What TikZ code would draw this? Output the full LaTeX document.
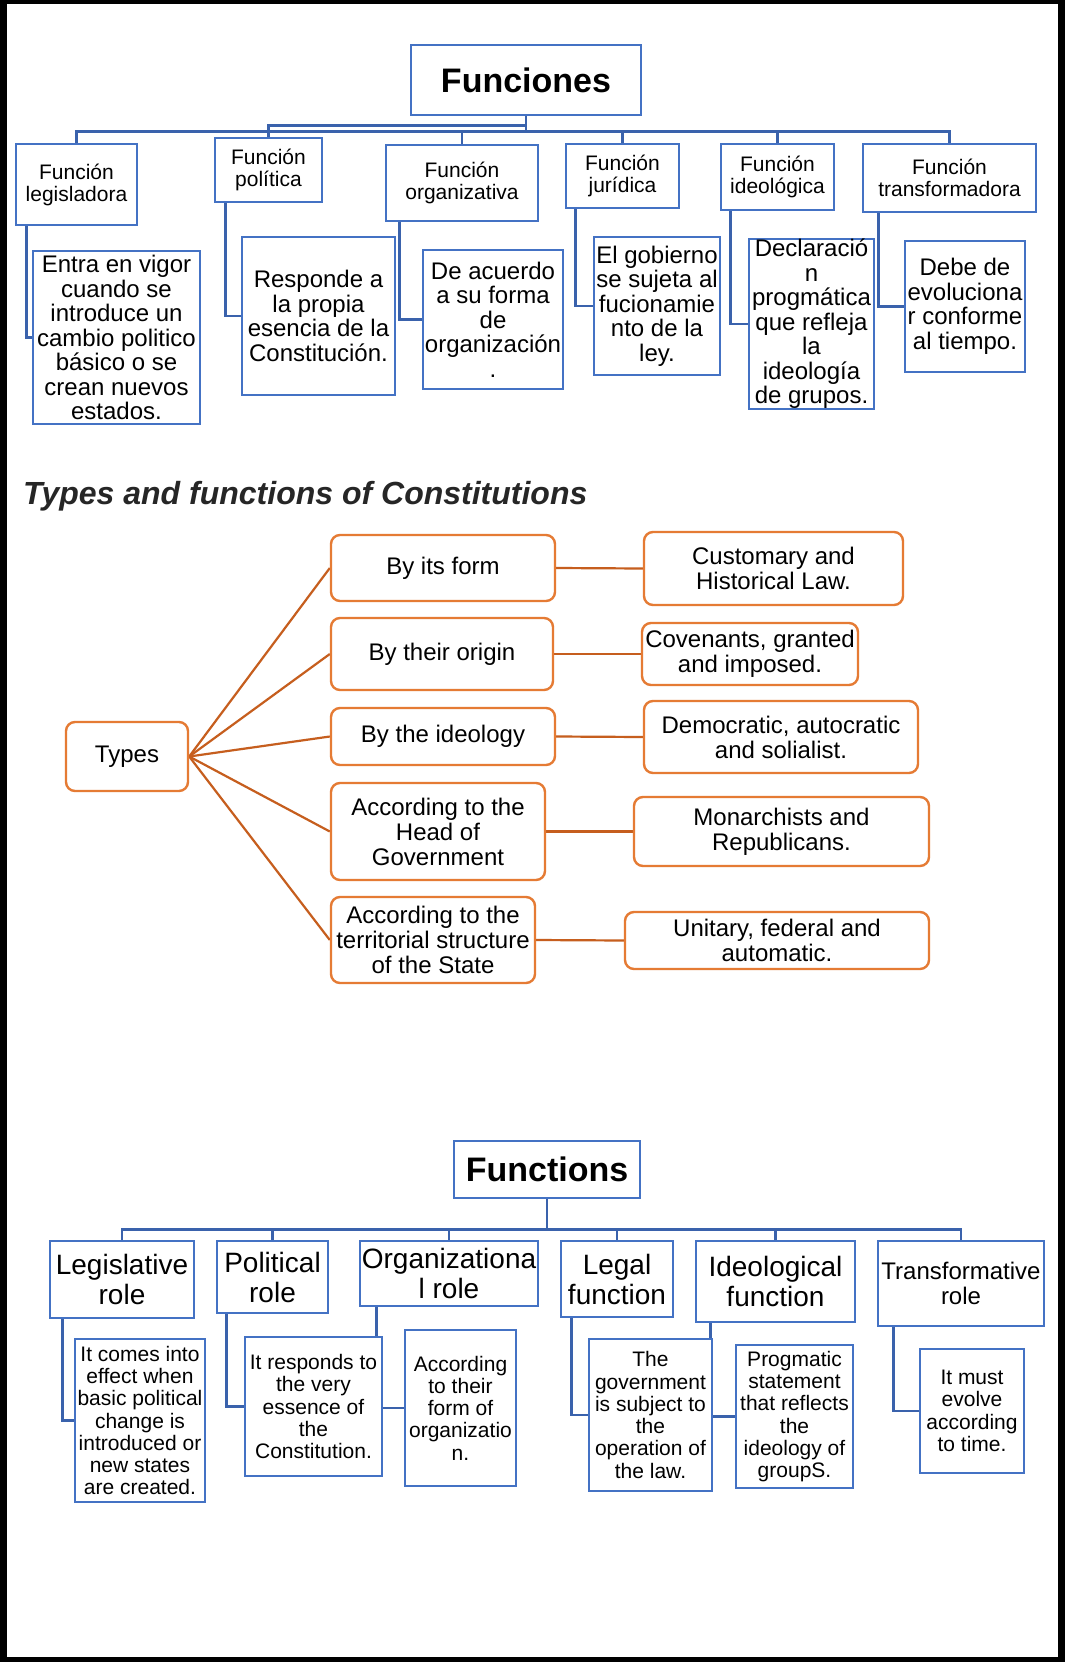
\documentclass[tikz,border=0pt]{standalone}
\usepackage{fontspec}
\setmainfont{Liberation Sans}
\usetikzlibrary{calc,backgrounds}
\definecolor{chartblue}{HTML}{4472C4}
\definecolor{linkblue}{HTML}{3A62AC}
\definecolor{chartorange}{HTML}{E57B34}
\definecolor{linkorange}{HTML}{C65E1E}

\begin{document}
\begin{tikzpicture}[x=1pt, y=-1pt,
                    boxsize/.style 2 args={minimum width=#1, minimum height=#2},
                    bluebox/.style={draw=chartblue, line width=2.6pt, fill=white, align=center, inner sep=0pt},
                    bluelink/.style={draw=linkblue, line width=2.6pt},
                    tophead/.style={bluebox, font=\fontsize{21}{22}\selectfont},
                    topdesc/.style={bluebox, font=\fontsize{24}{24.5}\selectfont},
                    bothead/.style={bluebox, font=\fontsize{28}{30}\selectfont},
                    botdesc/.style={bluebox, font=\fontsize{21}{22.3}\selectfont},
                    orangebox/.style={draw=chartorange, line width=2.4pt, fill=white, rounded corners=9pt, align=center, inner sep=0pt, font=\fontsize{24}{25}\selectfont},
                    orangelink/.style={draw=linkorange, line width=2.2pt}]
                    \useasboundingbox (0,0) rectangle (1065,1662);
                    \node [bluebox, boxsize={230}{70}, font=\fontsize{34}{40}\selectfont\bfseries] (fun) at (526,80) {Funciones};
                    \node [tophead, boxsize={121}{81}] (leg) at (76.5,184.5) {Función\\legisladora};
                    \node [tophead, boxsize={107}{64}] (pol) at (268.5,170) {Función\\política};
                    \node [tophead, boxsize={152}{76}] (org) at (462,183) {Función\\organizativa};
                    \node [tophead, boxsize={113}{64}] (jur) at (622.5,176) {Función\\jurídica};
                    \node [tophead, boxsize={113}{66}] (ideo) at (777.5,177) {Función\\ideológica};
                    \node [tophead, boxsize={173}{68}] (tra) at (949.5,178) {Función\\transformadora};
                    \node [topdesc, boxsize={167}{173}] (legd) at (116.5,337.5) {Entra en vigor\\cuando se\\introduce un\\cambio politico\\básico o se\\crean nuevos\\estados.};
                    \node [topdesc, boxsize={153}{158}] (pold) at (318.5,316) {Responde a\\la propia\\esencia de la\\Constitución.};
                    \node [topdesc, boxsize={140}{139}] (orgd) at (493,319.5) {De acuerdo\\a su forma\\de\\organización\\.};
                    \node [topdesc, boxsize={126}{138}] (jurd) at (657,306) {El gobierno\\se sujeta al\\fucionamie\\nto de la\\ley.};
                    \node [topdesc, boxsize={125}{170}] (ideod) at (811.5,324) {Declaració\\n\\progmática\\que refleja\\la\\ideología\\de grupos.};
                    \node [topdesc, boxsize={120}{131}] (trad) at (965,306.5) {Debe de\\evoluciona\\r conforme\\al tiempo.};
                    \node [anchor=base west, inner sep=0pt, text=black!85, font=\fontsize{32}{36}\selectfont\bfseries\itshape] (title) at (23,504) {Types and functions of Constitutions};
                    \node [orangebox, boxsize={122}{69}] (types) at (127,756.5) {Types};
                    \node [orangebox, boxsize={224}{66}] (bform) at (443,568) {By its form};
                    \node [orangebox, boxsize={222}{72}] (borig) at (442,654) {By their origin};
                    \node [orangebox, boxsize={224}{57}] (bideo) at (443,736.5) {By the ideology};
                    \node [orangebox, boxsize={214}{97}] (bhead) at (438,831.5) {According to the\\Head of\\Government};
                    \node [orangebox, boxsize={204}{86}] (bterr) at (433,940) {According to the\\territorial structure\\of the State};
                    \node [orangebox, boxsize={259}{73}] (cust) at (773.5,568.5) {Customary and\\Historical Law.};
                    \node [orangebox, boxsize={216}{62}] (cove) at (750,654) {Covenants, granted\\and imposed.};
                    \node [orangebox, boxsize={274}{72}] (demo) at (781,737) {Democratic, autocratic\\and solialist.};
                    \node [orangebox, boxsize={295}{69}] (mona) at (781.5,831.5) {Monarchists and\\Republicans.};
                    \node [orangebox, boxsize={304}{57}] (unit) at (777,940.5) {Unitary, federal and\\automatic.};
                    \node [bluebox, boxsize={186}{57}, font=\fontsize{34}{40}\selectfont\bfseries] (fns) at (547,1169.5) {Functions};
                    \node [bothead, boxsize={144}{77}] (lrole) at (122,1279.5) {Legislative\\role};
                    \node [bothead, boxsize={111}{72}] (prole) at (272.5,1277) {Political\\role};
                    \node [bothead, boxsize={178}{65}] (orole) at (449,1273.5) {Organizationa\\l role};
                    \node [bothead, boxsize={112}{76}] (lfun) at (617,1279) {Legal\\function};
                    \node [bothead, boxsize={159}{81}] (ifun) at (775.5,1281.5) {Ideological\\function};
                    \node [bluebox, boxsize={166}{85}, font=\fontsize{24}{25}\selectfont] (trole) at (961,1283.5) {Transformative\\role};
                    \node [botdesc, boxsize={130}{163}] (lroled) at (140,1420.5) {It comes into\\effect when\\basic political\\change is\\introduced or\\new states\\are created.};
                    \node [botdesc, boxsize={137}{139}] (proled) at (313.5,1406.5) {It responds to\\the very\\essence of\\the\\Constitution.};
                    \node [botdesc, boxsize={111}{156}] (oroled) at (460.5,1408) {According\\to their\\form of\\organizatio\\n.};
                    \node [botdesc, boxsize={123}{152}] (lfund) at (650.5,1415) {The\\government\\is subject to\\the\\operation of\\the law.};
                    \node [botdesc, boxsize={117}{143}] (ifund) at (794.5,1416.5) {Progmatic\\statement\\that reflects\\the\\ideology of\\groupS.};
                    \node [botdesc, boxsize={104}{124}] (troled) at (972,1411) {It must\\evolve\\according\\to time.};
                    \begin{scope}[on background layer]
                    \fill [black] (0,0) rectangle (1065,1662);
                    \fill [white] (7,4) rectangle (1058,1657);
                    \draw [bluelink] (fun.south) -- ++(0,15) coordinate (topbus);
                    \draw [bluelink] (leg.north) |- (topbus);
                    \draw [bluelink] (org.north) |- (topbus);
                    \draw [bluelink] (jur.north) |- (topbus);
                    \draw [bluelink] (ideo.north) |- (topbus);
                    \draw [bluelink] (tra.north) |- (topbus);
                    \draw [bluelink] (pol.north) |- ($(fun.south)+(0,9)$);
                    \draw [bluelink] ([xshift=12]leg.south west) |- (legd.west);
                    \draw [bluelink] ([xshift=12]pol.south west) |- (pold.west);
                    \draw [bluelink] ([xshift=15]org.south west) |- (orgd.west);
                    \draw [bluelink] ([xshift=11]jur.south west) |- (jurd.west);
                    \draw [bluelink] ([xshift=11]ideo.south west) |- (ideod.west);
                    \draw [bluelink] ([xshift=17]tra.south west) |- (trad.west);
                    \draw [orangelink] (types.east) -- (bform.west);
                    \draw [orangelink] (types.east) -- (borig.west);
                    \draw [orangelink] (types.east) -- (bideo.west);
                    \draw [orangelink] (types.east) -- (bhead.west);
                    \draw [orangelink] (types.east) -- (bterr.west);
                    \draw [orangelink] (bform.east) -- (cust.west);
                    \draw [orangelink] (borig.east) -- (cove.west);
                    \draw [orangelink] (bideo.east) -- (demo.west);
                    \draw [orangelink] (bhead.east) -- (mona.west);
                    \draw [orangelink] (bterr.east) -- (unit.west);
                    \draw [bluelink] (fns.south) -- ++(0,30) coordinate (botbus);
                    \draw [bluelink] (lrole.north) |- (botbus);
                    \draw [bluelink] (prole.north) |- (botbus);
                    \draw [bluelink] (orole.north) |- (botbus);
                    \draw [bluelink] (lfun.north) |- (botbus);
                    \draw [bluelink] (ifun.north) |- (botbus);
                    \draw [bluelink] (trole.north) |- (botbus);
                    \draw [bluelink] ([xshift=14]lrole.south west) |- (lroled.west);
                    \draw [bluelink] ([xshift=11]prole.south west) |- (proled.west);
                    \draw [bluelink] ([xshift=18]orole.south west) |- (oroled.west);
                    \draw [bluelink] ([xshift=12]lfun.south west) |- (lfund.west);
                    \draw [bluelink] ([xshift=16]ifun.south west) |- (ifund.west);
                    \draw [bluelink] ([xshift=17]trole.south west) |- (troled.west);
                    \end{scope}
                \end{tikzpicture}
\end{document}
